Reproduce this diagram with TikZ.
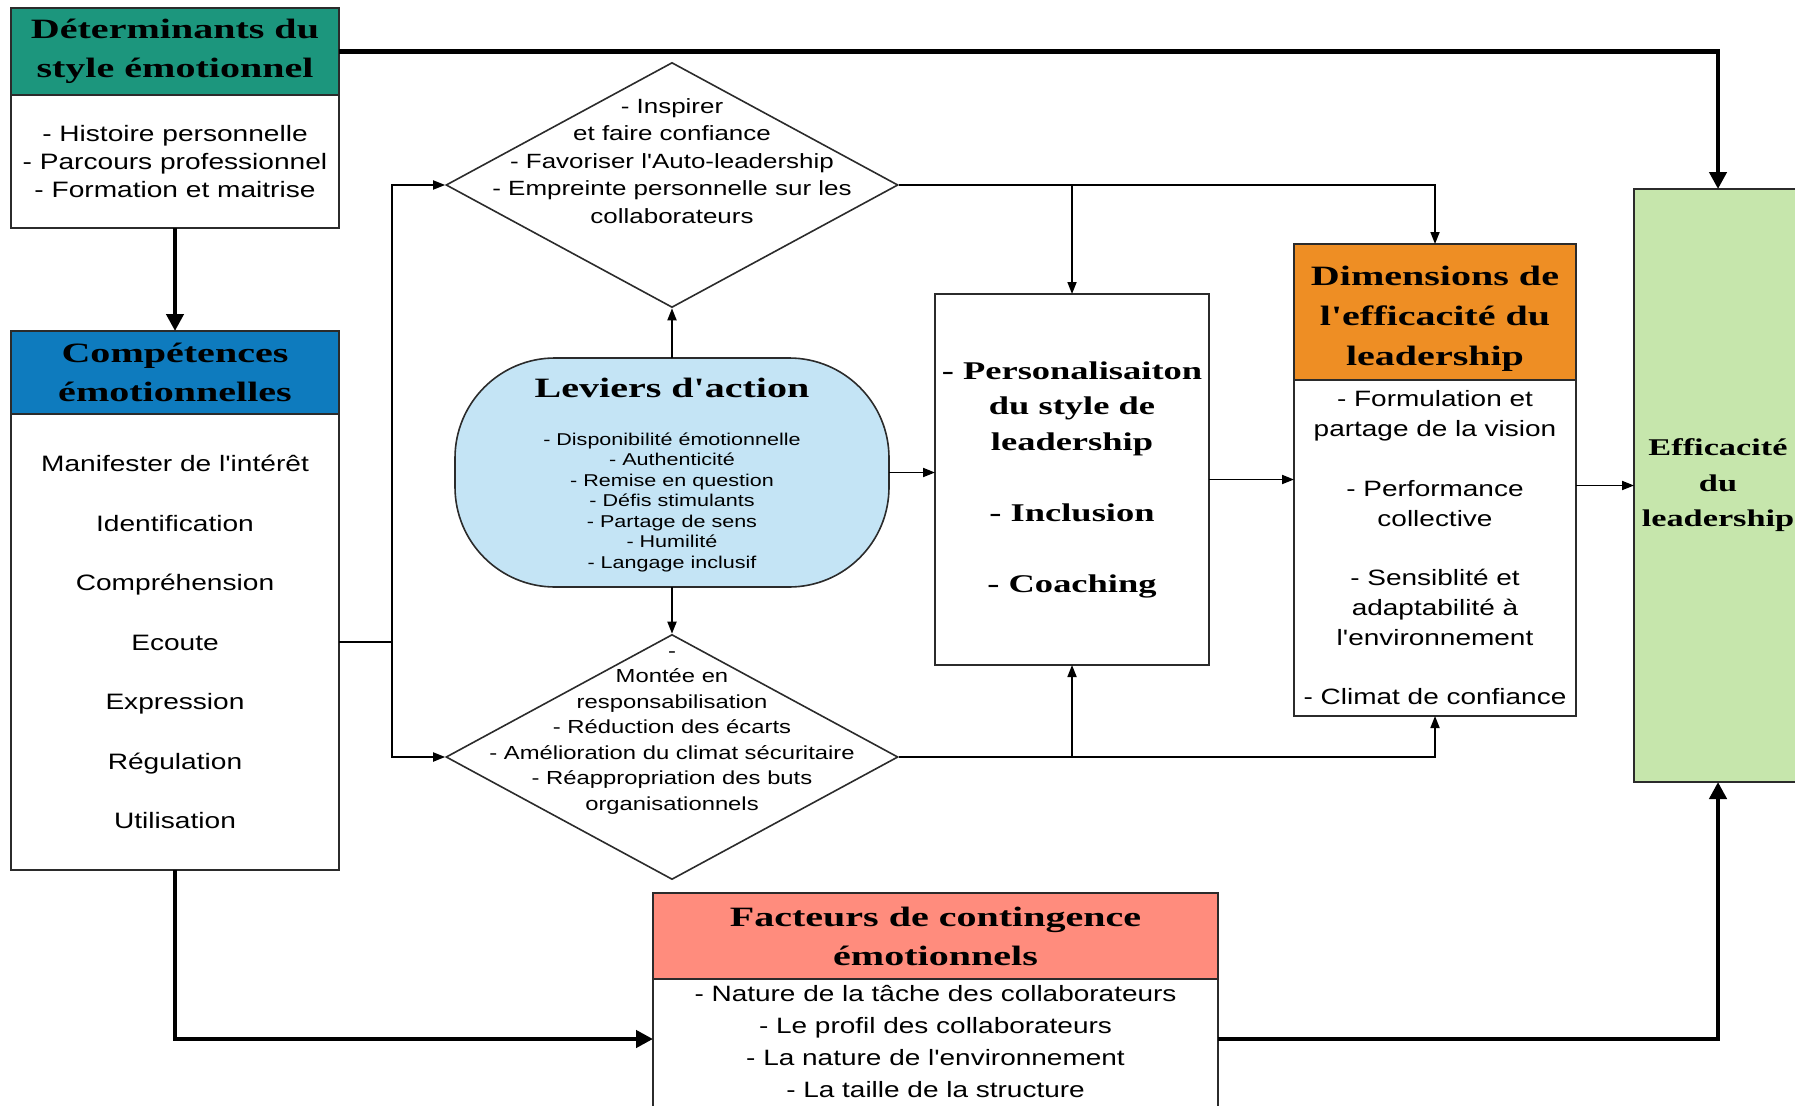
\documentclass[tikz,border=0pt]{standalone}
\usepackage{fontspec}
\setmainfont{Liberation Sans}[FakeStretch=1.26, Ligatures=TeXOff]
\newfontfamily\titlefont{Liberation Serif}[FakeStretch=1.43, Ligatures=TeXOff]
\usetikzlibrary{arrows.meta, positioning, shapes.geometric}

\definecolor{detgreen}{HTML}{1C967D}
\definecolor{compblue}{HTML}{0E7BBE}
\definecolor{levblue}{HTML}{C4E4F5}
\definecolor{dimorange}{HTML}{EE8E24}
\definecolor{factred}{HTML}{FF8C7D}
\definecolor{effgreen}{HTML}{C6E6AC}
\definecolor{rim}{HTML}{2B2B2B}

\begin{document}
\begin{tikzpicture}[x=1pt, y=-1pt, >={Triangle[length=12pt, width=9pt]},
  box/.style={draw=rim, line width=1.6pt, inner sep=0pt, outer sep=0pt, align=center},
  head/.style={box, font=\titlefont\bfseries\fontsize{28}{39}\selectfont},
  list/.style={box, fill=white, font=\fontsize{22.3}{28.3}\selectfont},
  decision/.style={draw=rim, line width=1.6pt, diamond, inner sep=0pt,
    minimum width=452pt, minimum height=245pt},
  link/.style={line width=1.8pt, ->},
  bold link/.style={line width=4.5pt, -{Triangle[length=17pt, width=17pt]}}]
  \useasboundingbox (0,0) rectangle (1795,1105);

  % left column
  \node[head, fill=detgreen, minimum width=328pt, minimum height=87pt] (Det) at (175,51.5)
    {D\'eterminants du\\style \'emotionnel};
  \node[list, minimum width=328pt, minimum height=133pt, below=0pt of Det] (DetBody)
    {- Histoire personnelle\\- Parcours professionnel\\- Formation et maitrise};
  \node[head, fill=compblue, minimum width=328pt, minimum height=83pt] (Comp) at (175,372.5)
    {Comp\'etences\\\'emotionnelles};
  \node[list, font=\fontsize{22.3}{59.5}\selectfont, minimum width=328pt, minimum height=456pt,
    below=0pt of Comp] (CompBody)
    {Manifester de l'int\'er\^et\\Identification\\Compr\'ehension\\Ecoute\\Expression\\R\'egulation\\Utilisation};

  % centre
  \node[decision] (Inspire) at (672,185) {};
  \node[align=center, font=\fontsize{20.6}{27.5}\selectfont] (InspireText) at (672,161)
    {- Inspirer\\et faire confiance\\- Favoriser l'Auto-leadership\\- Empreinte personnelle sur les\\collaborateurs};
  \node[box, fill=levblue, rounded corners=100pt, minimum width=434pt, minimum height=229pt]
    (Lev) at (672,472.5) {};
  \node[font=\titlefont\bfseries\fontsize{28}{39}\selectfont] (LevTitle) at (672,388) {Leviers d'action};
  \node[align=center, font=\fontsize{17.1}{20.5}\selectfont] (LevText) at (672,502)
    {- Disponibilit\'e \'emotionnelle\\- Authenticit\'e\\- Remise en question\\- D\'efis stimulants\\- Partage de sens\\- Humilit\'e\\- Langage inclusif};
  \node[decision] (Accomp) at (672,757) {};
  \node[align=center, font=\fontsize{18.9}{25.5}\selectfont] (AccompText) at (672,733)
    {-\\Mont\'ee en\\responsabilisation\\- R\'eduction des \'ecarts\\- Am\'elioration du climat s\'ecuritaire\\- R\'eappropriation des buts\\organisationnels};

  \node[box, font=\titlefont\bfseries\fontsize{25.5}{35.5}\selectfont, minimum width=274pt,
    minimum height=371pt] (Perso) at (1072,479.5)
    {- Personalisaiton\\du style de\\leadership\\[35.5pt]- Inclusion\\[35.5pt]- Coaching};

  % right column
  \node[box, fill=dimorange, minimum width=282pt, minimum height=136pt] (Dim) at (1435,312) {};
  \node[align=center, font=\titlefont\bfseries\fontsize{28}{40}\selectfont] (DimTitle) at (1435,319)
    {Dimensions de\\l'efficacit\'e du\\leadership};
  \node[list, font=\fontsize{22.2}{29.8}\selectfont, minimum width=282pt, minimum height=336pt,
    below=0pt of Dim] (DimBody)
    {- Formulation et\\partage de la vision\\[29.8pt]- Performance\\collective\\[29.8pt]- Sensiblit\'e et\\adaptabilit\'e \`a\\l'environnement\\[29.8pt]- Climat de confiance};
  \node[box, fill=effgreen, font=\titlefont\bfseries\fontsize{24}{35.5}\selectfont,
    minimum width=168pt, minimum height=593pt] (Eff) at (1718,485.5)
    {Efficacit\'e\\du\\leadership};

  % bottom
  \node[head, fill=factred, minimum width=565pt, minimum height=86pt] (Fact) at (935.5,936)
    {Facteurs de contingence\\\'emotionnels};
  \node[list, font=\fontsize{22.2}{32}\selectfont, minimum width=565pt, inner ysep=6pt,
    below=0pt of Fact] (FactBody)
    {- Nature de la t\^ache des collaborateurs\\- Le profil des collaborateurs\\- La nature de l'environnement\\- La taille de la structure\\\strut};

  % connectors
  \coordinate (fork) at (392,642);
  \draw[bold link] (Det.east) -| (Eff.north);
  \draw[bold link] (DetBody) -- (Comp);
  \draw[line width=1.8pt] (CompBody.east) -- (fork);
  \draw[link] (fork) |- (Inspire.west);
  \draw[link] (fork) |- (Accomp.west);
  \draw[link] (Lev.north) -- (Inspire.south);
  \draw[link] (Lev.south) -- (Accomp.north);
  \draw[link] (Lev.east) -- (Lev.east -| Perso.west);
  \draw[link] (Inspire.east) -| (Dim.north);
  \draw[link] (Inspire.east -| Perso.north) -- (Perso.north);
  \draw[link] (Accomp.east) -| (DimBody.south);
  \draw[link] (Accomp.east -| Perso.south) -- (Perso.south);
  \draw[link] (Perso.east) -- (Perso.east -| DimBody.west);
  \draw[link] (Eff.west -| DimBody.east) -- (Eff.west);
  \draw[bold link] (CompBody.south) |- ([yshift=-60pt]Fact.south west);
  \draw[bold link] ([yshift=-60pt]Fact.south east) -| (Eff.south);
\end{tikzpicture}
\end{document}
